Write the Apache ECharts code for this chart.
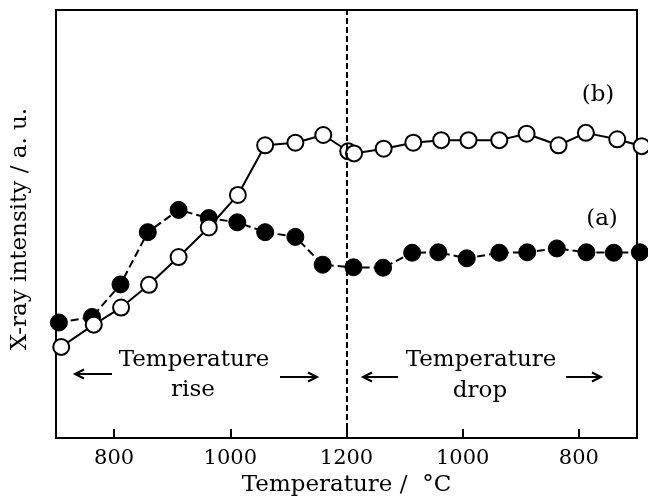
<!DOCTYPE html>
<html>
<head>
<meta charset="utf-8">
<script src="https://cdn.jsdelivr.net/npm/echarts@6/dist/echarts.min.js"></script>
<style>
html,body{margin:0;padding:0;background:#fff;}
#chart{width:648px;height:502px;}
</style>
</head>
<body>
<div id="chart"></div>
<script>
// Temperatures (°C) during the heating (rise) and cooling (drop) stages
const bRiseTemps = [709, 765, 812, 860, 911, 963, 1013, 1060, 1112, 1160, 1203];
const bRiseVals  = [21.3, 26.5, 30.5, 35.8, 42.3, 49.2, 56.8, 68.4, 69.0, 70.8, 67.0];
const bDropTemps = [1187, 1136, 1085, 1037, 990, 937, 890, 835, 788, 734, 692];
const bDropVals  = [66.5, 67.6, 69.0, 69.6, 69.6, 69.6, 71.1, 68.4, 71.3, 69.8, 68.2];

const aRiseTemps = [705, 762, 811, 858, 911, 963, 1012, 1060, 1112, 1159];
const aRiseVals  = [27.0, 28.3, 35.9, 48.1, 53.3, 51.4, 50.4, 48.1, 47.0, 40.5];
const aDropTemps = [1188, 1137, 1087, 1042, 993, 937, 889, 838, 787, 740, 695];
const aDropVals  = [39.9, 39.8, 43.3, 43.4, 42.0, 43.3, 43.4, 44.3, 43.4, 43.3, 43.4];

const tickTemps = [800, 1000, 1200, 1000, 800];
const tickPhase = ['rise', 'rise', 'peak', 'drop', 'drop'];

const T_START = 700, T_PEAK = 1200;
// position along the thermal path: rise 700->1200, then drop 1200->700
function riseToPos(t){ return t - T_START; }
function dropToPos(t){ return (T_PEAK - T_START) + (T_PEAK - t); }
function posToTemp(p){ return p <= (T_PEAK - T_START) ? T_START + p : T_PEAK - (p - (T_PEAK - T_START)); }

const tickPos = tickTemps.map((t, i) => tickPhase[i] === 'drop' ? dropToPos(t) : riseToPos(t));

function build(riseT, riseV, dropT, dropV){
  const out = [];
  riseT.forEach((t, i) => out.push([riseToPos(t), riseV[i]]));
  dropT.forEach((t, i) => out.push([dropToPos(t), dropV[i]]));
  return out;
}
const dataA = build(aRiseTemps, aRiseVals, aDropTemps, aDropVals);
const dataB = build(bRiseTemps, bRiseVals, bDropTemps, bDropVals);

const FONT = 'DejaVu Serif';

function arrow(x1, x2, y){
  const dir = x2 > x1 ? 1 : -1;
  const hl = 9, hw = 4.5;
  return {
    type: 'group',
    children: [
      { type: 'line', shape: {x1: x1, y1: y, x2: x2, y2: y}, style: {stroke: '#000', lineWidth: 2} },
      { type: 'polyline', shape: {points: [[x2 - dir*hl, y - hw], [x2, y], [x2 - dir*hl, y + hw]]},
        style: {stroke: '#000', lineWidth: 2, fill: null} }
    ]
  };
}
function label(text, x, y, size){
  return { type: 'text', x: x, y: y,
    style: { text: text, font: (size||23) + 'px "' + FONT + '"', fill: '#000', align: 'center', verticalAlign: 'middle' } };
}

const chart = echarts.init(document.getElementById('chart'), null, {renderer: 'canvas'});
chart.setOption({
  backgroundColor: '#fff',
  animation: false,
  grid: { left: 56, right: 11, top: 10, bottom: 62, show: true, borderColor: '#000', borderWidth: 2 },
  xAxis: {
    type: 'value', min: 0, max: 1000,
    name: 'Temperature /  °C', nameLocation: 'middle', nameGap: 35,
    nameTextStyle: { fontFamily: FONT, fontSize: 23, color: '#000' },
    axisLine: { show: true, lineStyle: { color: '#000', width: 2 } },
    axisTick: { show: true, inside: true, length: 9, customValues: tickPos, lineStyle: { color: '#000', width: 2 } },
    axisLabel: { customValues: tickPos, margin: 10, fontFamily: FONT, fontSize: 21, color: '#000',
      formatter: v => String(posToTemp(v)) },
    splitLine: { show: false }
  },
  yAxis: {
    type: 'value', min: 0, max: 100,
    name: 'X-ray intensity / a. u.', nameLocation: 'middle', nameGap: 24,
    nameTextStyle: { fontFamily: FONT, fontSize: 23, color: '#000', padding: [0, 10, 0, 0] },
    axisLine: { show: true, lineStyle: { color: '#000', width: 2 } },
    axisTick: { show: false }, axisLabel: { show: false }, splitLine: { show: false }
  },
  series: [
    {
      name: '(a)', type: 'line', data: dataA, clip: false,
      symbol: 'circle', symbolSize: 17,
      itemStyle: { color: '#000', borderColor: '#000', borderWidth: 1 },
      lineStyle: { color: '#000', width: 2, type: [8, 4] },
      markLine: {
        silent: true, symbol: ['none', 'none'], label: { show: false },
        lineStyle: { color: '#000', width: 2, type: [6, 3] },
        data: [{ xAxis: riseToPos(T_PEAK) }]
      },
      z: 2
    },
    {
      name: '(b)', type: 'line', data: dataB, clip: false,
      symbol: 'circle', symbolSize: 16,
      itemStyle: { color: '#fff', borderColor: '#000', borderWidth: 2 },
      lineStyle: { color: '#000', width: 2 },
      z: 3
    }
  ],
  graphic: [
    label('(b)', 598, 95),
    label('(a)', 602, 219),
    label('Temperature', 194, 360),
    label('rise', 193, 390),
    label('Temperature', 481, 360),
    label('drop', 480, 391),
    arrow(112, 75, 374),
    arrow(280, 317, 377),
    arrow(398, 363, 377),
    arrow(566, 601, 377)
  ]
});
</script>
</body>
</html>
